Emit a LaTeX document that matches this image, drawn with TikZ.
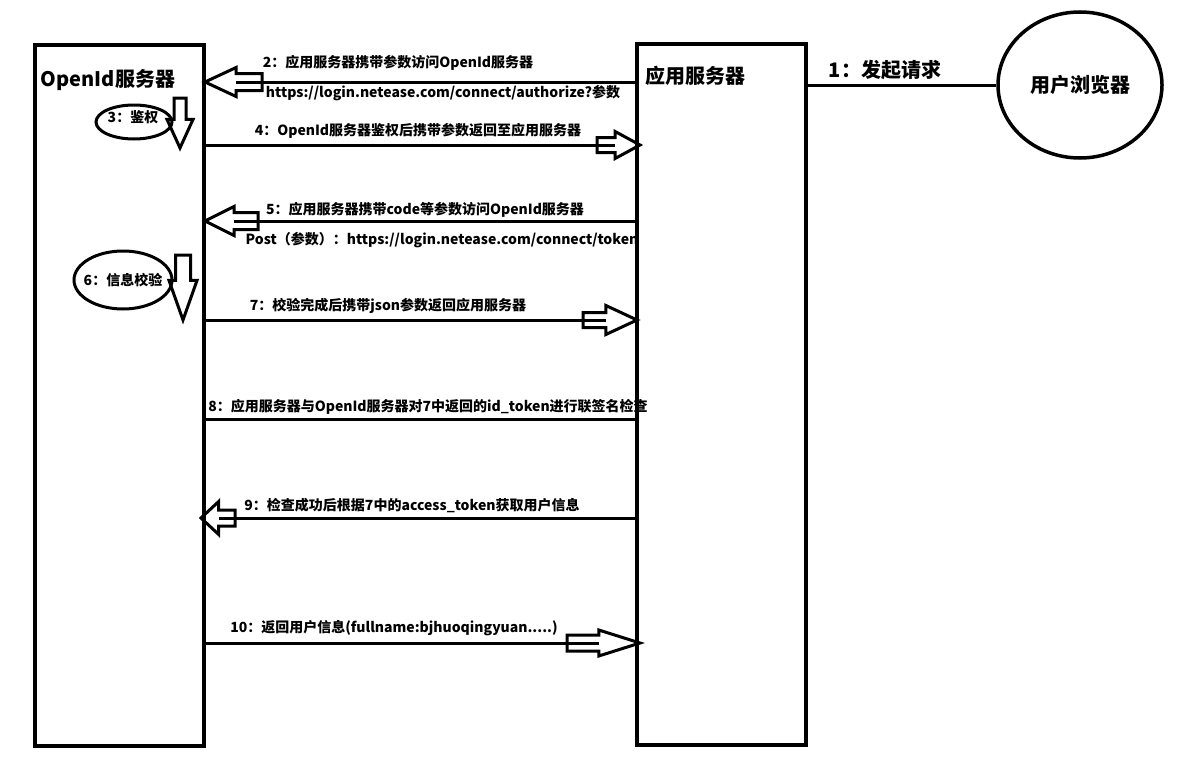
\documentclass[tikz,border=0pt]{standalone}
\usepackage{fontspec}
\setmainfont{Noto Sans CJK SC}
\usetikzlibrary{shapes.arrows, shapes.geometric, positioning, calc}

\tikzset{
  box/.style={draw, line width=4pt, minimum width=169pt, minimum height=701pt, outer sep=0pt},
  conn/.style={line width=3pt},
  hollow/.style={single arrow, draw, line width=3pt, outer sep=0pt, anchor=tip, single arrow head indent=0pt},
  msg/.style={font=\fontsize{14}{16}\selectfont\bfseries, inner sep=0pt},
  title/.style={font=\fontsize{20}{22}\selectfont\bfseries, inner sep=0pt},
}

\begin{document}
\begin{tikzpicture}[x=1pt, y=-1pt]
\useasboundingbox (0,0) rectangle (1180,760);
\node[box] (OP) at (119.5,395.5) {};
\node[box] (App) at (721.5,394.5) {};
\node[draw, ellipse, line width=3.5pt, minimum width=164pt, minimum height=146pt, font=\fontsize{20}{22}\selectfont\bfseries] (Browser) at (1080,85) {用户浏览器};
\node[title] (OPname) at (108,80) {OpenId服务器};
\node[title] (Appname) at (695,76) {应用服务器};
\draw[conn] (Browser.west) -- (Browser.west -| App.east);
\node[title] (s1) at (885,70) {1：发起请求};
% 2
\node[hollow, shape border rotate=180, inner sep=7pt, minimum height=57pt, single arrow head extend=6pt, single arrow tip angle=50] (A2) at (205,82) {};
\draw[conn] (A2.tip -| App.west) -- ($(A2.before head)!0.5!(A2.after head)$);
\node[msg] (s2) at (398,63) {2：应用服务器携带参数访问OpenId服务器};
\node[msg] (u2) at (443,93) {https://login.netease.com/connect/authorize?参数};
% 3
\node[draw, ellipse, line width=3pt, minimum width=76pt, minimum height=34pt] (E3) at (134,122) {};
\node[msg] (s3) at (133,117) {3：鉴权};
\node[hollow, shape border rotate=270, inner sep=4.5pt, minimum height=50pt, single arrow head extend=7pt, single arrow tip angle=49] (A3) at (180,148) {};
% 4
\node[hollow, inner sep=6pt, minimum height=43pt, single arrow head extend=6pt, single arrow tip angle=57] (A4) at (640,145) {};
\draw[conn] (A4.tip -| OP.east) -- ($(A4.before head)!0.5!(A4.after head)$);
\node[msg] (s4) at (418,131) {4：OpenId服务器鉴权后携带参数返回至应用服务器};
% 5
\node[hollow, shape border rotate=180, inner sep=7pt, minimum height=53pt, single arrow head extend=6pt, single arrow tip angle=53] (A5) at (205,221) {};
\draw[conn] (A5.tip -| App.west) -- ($(A5.before head)!0.5!(A5.after head)$);
\node[msg] (s5) at (425,210) {5：应用服务器携带code等参数访问OpenId服务器};
\node[msg] (u5) at (442,240) {Post（参数）：https://login.netease.com/connect/token};
% 6
\node[draw, ellipse, line width=3pt, minimum width=98pt, minimum height=58pt] (E6) at (123,280) {};
\node[msg] (s6) at (123,280) {6：信息校验};
\node[hollow, shape border rotate=270, inner sep=6pt, minimum height=65pt, single arrow head extend=6.5pt, single arrow tip angle=39] (A6) at (183,320) {};
% 7
\node[hollow, inner sep=6pt, minimum height=54pt, single arrow head extend=7pt, single arrow tip angle=50] (A7) at (637,320) {};
\draw[conn] (A7.tip -| OP.east) -- ($(A7.before head)!0.5!(A7.after head)$);
\node[msg] (s7) at (388,306) {7：校验完成后携带json参数返回应用服务器};
% 8
\coordinate (c8) at (420,419);
\draw[conn] (c8 -| OP.east) -- (c8 -| App.west);
\node[msg] (s8) at (428,407) {8：应用服务器与OpenId服务器对7中返回的id\_token进行联签名检查};
% 9
\node[hollow, shape border rotate=180, inner sep=6.5pt, minimum height=34pt, single arrow head extend=8.5pt, single arrow tip angle=86] (A9) at (201,518) {};
\draw[conn] (A9.tip -| App.west) -- ($(A9.before head)!0.5!(A9.after head)$);
\node[msg] (s9) at (412,506) {9：检查成功后根据7中的access\_token获取用户信息};
% 10
\node[hollow, inner sep=6.5pt, minimum height=73pt, single arrow head extend=5pt, single arrow tip angle=35] (A10) at (640,643) {};
\draw[conn] (A10.tip -| OP.east) -- ($(A10.before head)!0.5!(A10.after head)$);
\node[msg] (s10) at (394,628) {10：返回用户信息(fullname:bjhuoqingyuan.....)};
\end{tikzpicture}
\end{document}
